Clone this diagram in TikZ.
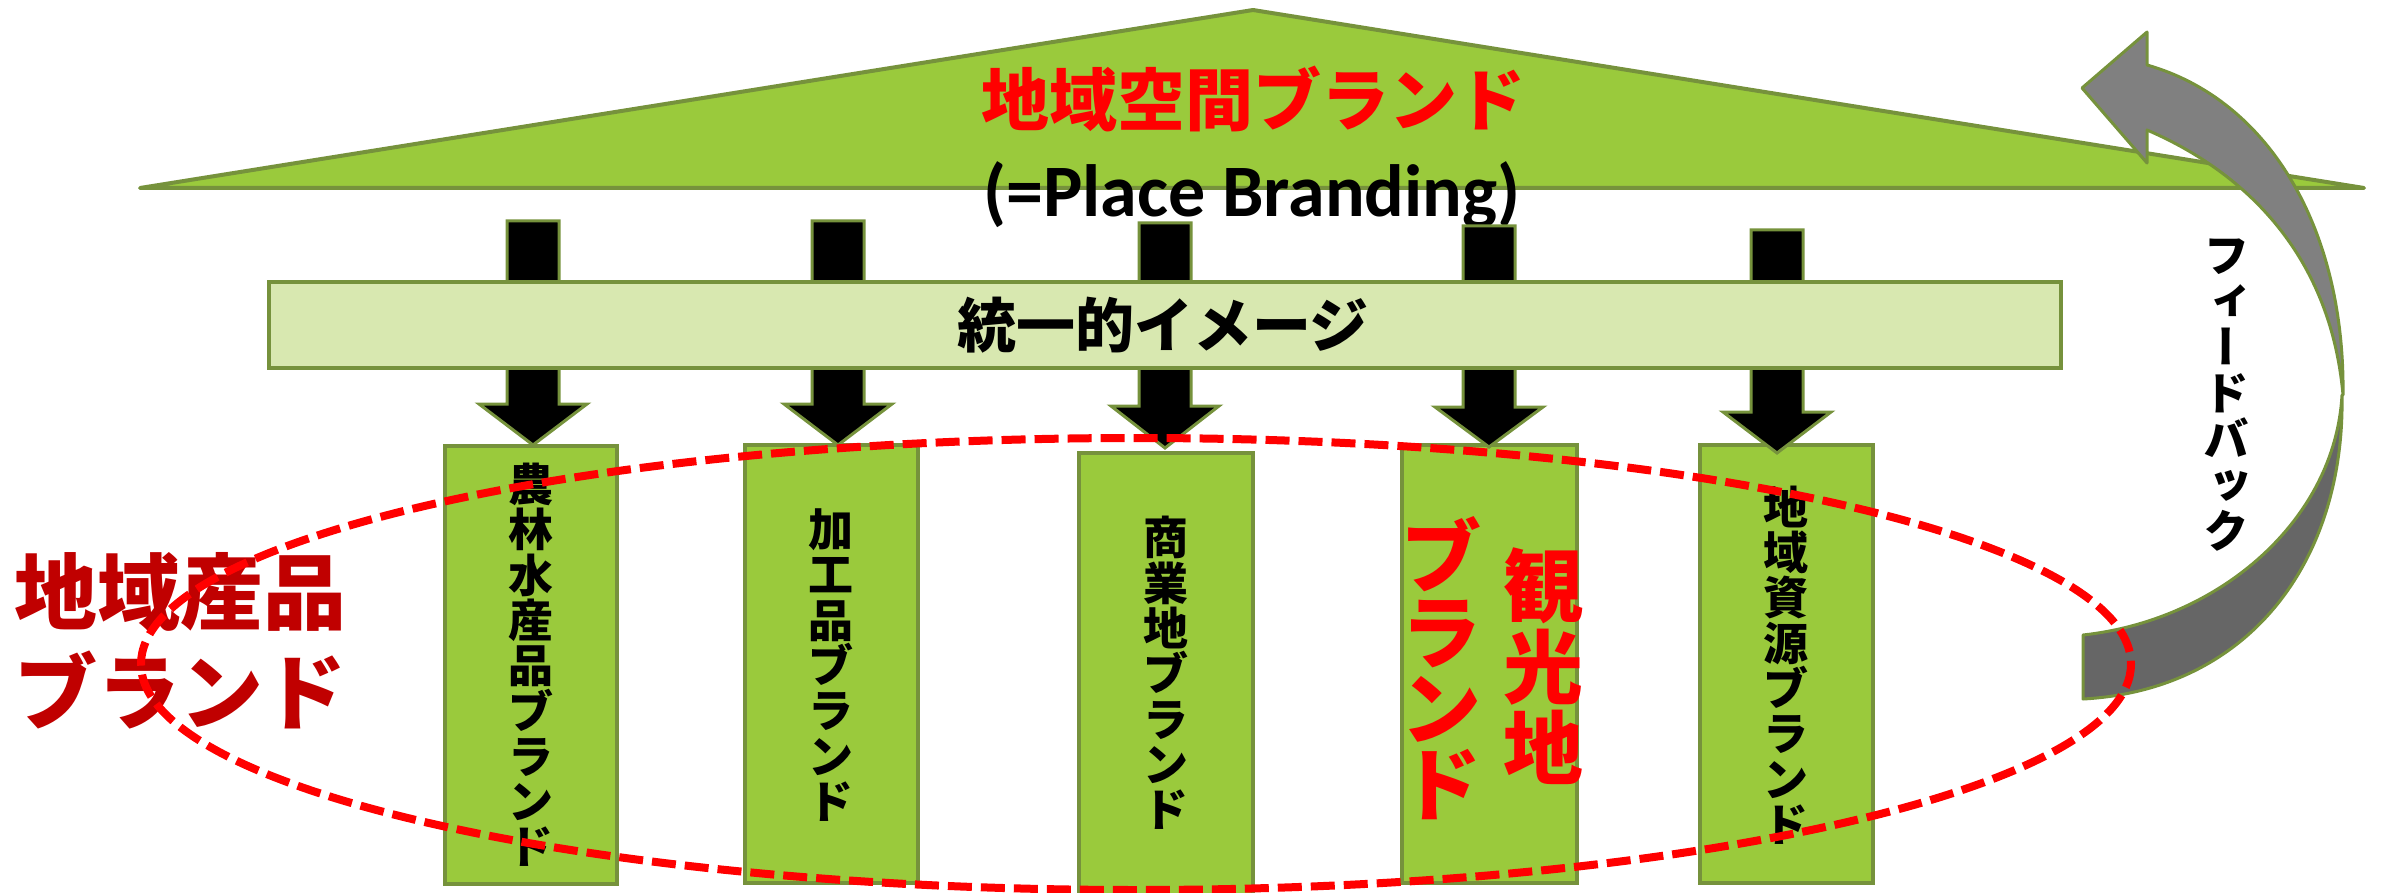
\documentclass[tikz,border=0pt]{standalone}
\usepackage{fontspec}
\setmainfont{Carlito}
\newfontfamily\jp{Noto Sans CJK JP}
\newfontfamily\jpv{Noto Sans CJK JP}[RawFeature=+vert]
\newcommand\fsz[2]{\fontsize{#1}{#2}\selectfont}
\definecolor{gfill}{HTML}{9ACA3C}
\definecolor{gline}{HTML}{76923C}
\definecolor{barfill}{HTML}{D8E8B0}
\definecolor{grayup}{HTML}{808080}
\definecolor{graylow}{HTML}{666666}
\definecolor{redA}{HTML}{FF0000}
\definecolor{darkredA}{HTML}{C00000}
\tikzset{
  roof/.style={fill=gfill, draw=gline, line width=4pt, line join=round},
  brandbox/.style={fill=gfill, draw=gline, line width=3.5pt},
  barbox/.style={fill=barfill, draw=gline, line width=3.5pt},
  blockarrow/.style={fill=black, draw=gline, line width=3pt},
  fbarrow/.style={draw=gline, line width=3pt, line join=round},
  vtext/.style={inner sep=0pt, align=center, font=\jp\bfseries\fsz{45}{45.3}},
  ring/.style={draw=redA, line width=8pt, dash pattern=on 24pt off 9pt}
}
\begin{document}
\begin{tikzpicture}[x=1pt,y=-1pt]
\useasboundingbox (0,0) rectangle (2382,893);
% roof
\draw[roof] (140,188) coordinate (roofL) -- (1253,10) coordinate (roofT) -- (2364,188) coordinate (roofR) -- cycle;
\node[inner sep=0pt, text=redA, font=\jp\bfseries\fsz{68}{68}] (title) at (1253,99) {地域空間ブランド};
\node[inner sep=0pt, font=\bfseries\fsz{74}{74}] (place) at (1252,195) {(=Place Branding)};
% brand boxes
\draw[brandbox] (445,446) rectangle (617,884);
\draw[brandbox] (745,445) rectangle (918,883);
\draw[brandbox] (1079,453) rectangle (1253,905);
\draw[brandbox] (1402,445) rectangle (1577,883);
\draw[brandbox] (1700,445) rectangle (1873,883);
\node[vtext] (b1) at (531,665) {農\\林\\水\\産\\品\\ブ\\ラ\\ン\\ド};
\node[vtext] (b2) at (831,665) {加\\工\\品\\ブ\\ラ\\ン\\ド};
\node[vtext] (b3) at (1166,673) {商\\業\\地\\ブ\\ラ\\ン\\ド};
\node[vtext] (b5) at (1786,665) {地\\域\\資\\源\\ブ\\ラ\\ン\\ド};
\node[inner sep=0pt, align=center, text=redA, font=\jp\bfseries\fsz{80}{81}] (b4a) at (1543,666) {観\\光\\地};
\node[inner sep=0pt, align=center, text=redA, font=\jp\bfseries\fsz{80}{76}] (b4b) at (1441,668) {ブ\\ラ\\ン\\ド};
% block arrows
\foreach \cx/\ty/\hy/\tp in {533/221/404/445, 838/221/404/445, 1165/223/406/448, 1489/226/407/447, 1777/230/412/453}{
  \draw[blockarrow] ({\cx-26},\ty) -- ({\cx+26},\ty) -- ({\cx+26},\hy) -- ({\cx+54},\hy) -- (\cx,\tp) -- ({\cx-54},\hy) -- ({\cx-26},\hy) -- cycle;
}
% unified image bar
\draw[barbox] (269,282) rectangle (2061,368);
\node[inner sep=0pt, font=\jp\bfseries\fsz{59}{59}] (bar) at (1163,325) {統一的イメージ};
% feedback arrow
\draw[fbarrow, fill=graylow] (2083,699) -- (2083,635) .. controls (2220,620) and (2335,520) .. (2342,395) .. controls (2345,560) and (2250,690) .. (2083,699) -- cycle;
\draw[fbarrow, fill=grayup] (2147,65) .. controls (2270,100) and (2345,230) .. (2343,395) .. controls (2330,250) and (2240,170) .. (2147,130) -- (2147,163) -- (2082,88) -- (2147,32) -- cycle;
\node[inner sep=0pt, align=center, font=\jpv\bfseries\fsz{46}{46}] (fb) at (2226,395) {フ\\ィ\\ー\\ド\\バ\\ッ\\ク};
% regional product brand
\node[inner sep=0pt, align=left, anchor=north west, text=darkredA, font=\jp\bfseries\fsz{83}{100}] (reg) at (14,552) {地域産品\\ブランド};
% dashed ellipse
\draw[ring] (1136,664) ellipse [x radius=995, y radius=226];
\end{tikzpicture}
\end{document}
